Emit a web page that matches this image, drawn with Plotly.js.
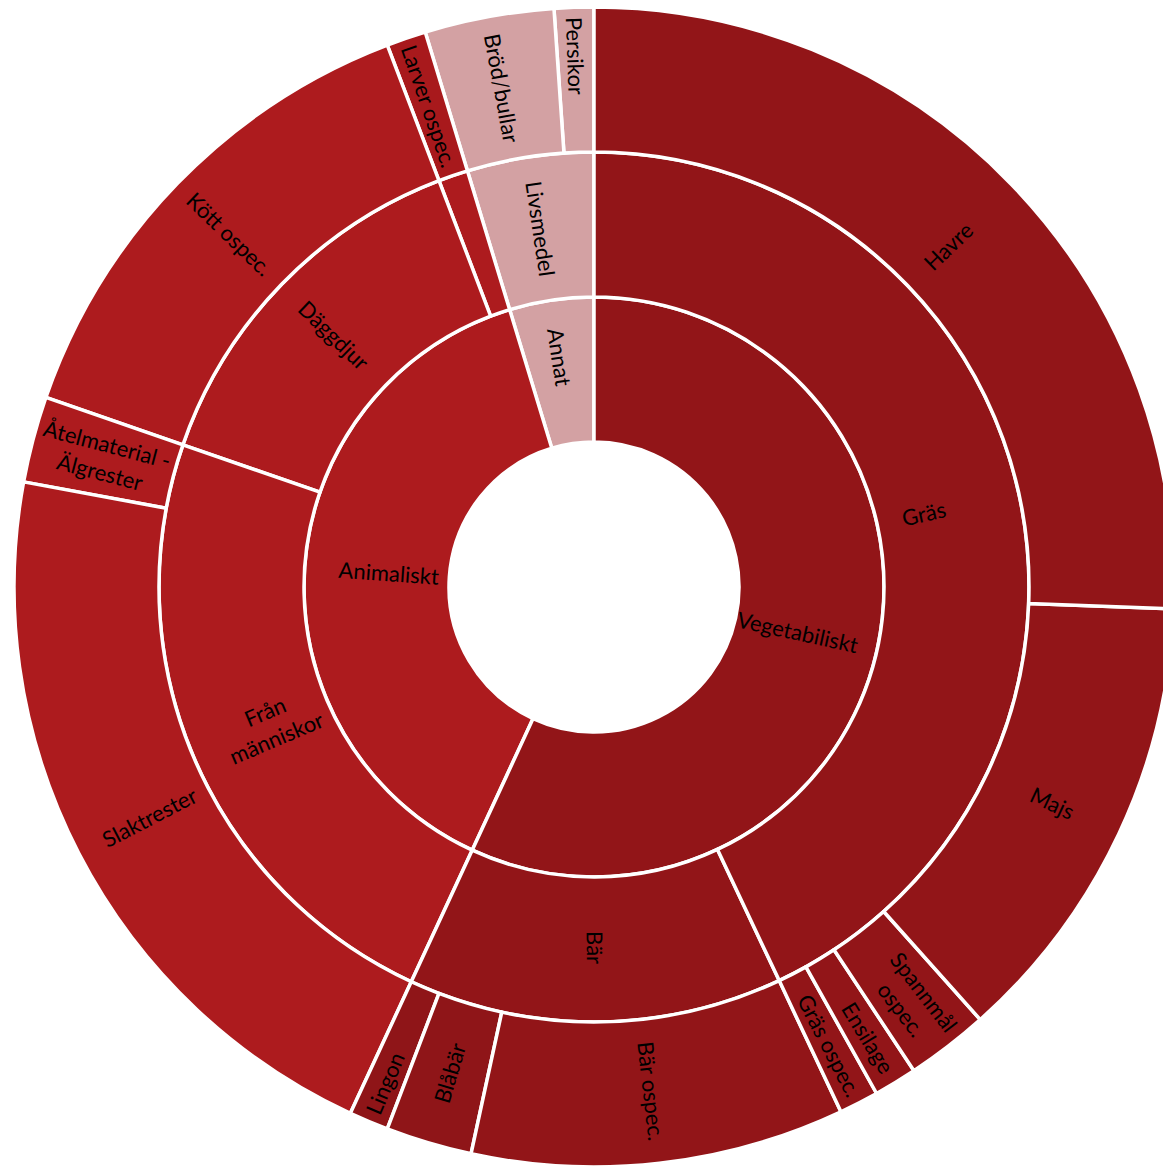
<!DOCTYPE html>
<html>
<head>
<meta charset="utf-8">
<script src="https://cdn.plot.ly/plotly-3.0.1.min.js"></script>
<style>
html,body{margin:0;padding:0;overflow:hidden;background:#fff;}
#chart{width:1174px;height:1168px;}
</style>
</head>
<body>
<div id="chart"></div>
<script>
// Node ids, labels, parents, values (share in %), colours
// Listed in reverse (Plotly lays sectors out counterclockwise; reference reads clockwise)
const ids = ["root","Annat","Animaliskt","Vegetabiliskt",
  "Livsmedel","Insekter","Däggdjur","Från människor","Bär","Gräs",
  "Persikor","Bröd/bullar",
  "Larver ospec.","Kött ospec.",
  "Åtelmaterial - Älgrester","Slaktrester",
  "Lingon","Blåbär","Bär ospec.",
  "Gräs ospec.","Ensilage","Spannmål ospec.","Majs","Havre"];
const labelText = ["","Annat","Animaliskt","Vegetabiliskt",
  "Livsmedel","","Däggdjur","Från<br>människor","Bär","Gräs",
  "Persikor","Bröd/bullar",
  "Larver ospec.","Kött ospec.",
  "Åtelmaterial -<br>Älgrester","Slaktrester",
  "Lingon","Blåbär","Bär ospec.",
  "Gräs ospec.","Ensilage","Spannmål<br>ospec.","Majs","Havre"];
const parents = ["","root","root","root",
  "Annat","Animaliskt","Animaliskt","Animaliskt","Vegetabiliskt","Vegetabiliskt",
  "Livsmedel","Livsmedel",
  "Insekter","Däggdjur",
  "Från människor","Från människor",
  "Bär","Bär","Bär",
  "Gräs","Gräs","Gräs","Gräs","Gräs"];
const values = [0,0,0,0,
  0,0,0,0,0,0,
  1.1,3.6,
  1.1,13.9,
  2.4,21.0,
  1.1,2.4,10.4,
  1.1,1.2,2.3,12.8,25.6];
const VEG="#921518", ANI="#AD1B1E", ANN="#D3A1A3";
const colors = ["#ffffff",ANN,ANI,VEG,
  ANN,ANI,ANI,ANI,VEG,VEG,
  ANN,ANN,
  "#A8191C",ANI,
  ANI,ANI,
  "#8F1518","#8F1518",VEG,
  VEG,VEG,VEG,VEG,VEG];

// Labels whose sector spans a horizontal axis: drawn by an overlay trace
// (padded with blank lines so Plotly keeps them radial at the sector's middle)
const wideSectors = ["Vegetabiliskt","Animaliskt","Gräs","Från människor","Havre","Slaktrester"];
const padLines = 3;
function pad(t){
  const blank = Array(padLines).fill("&nbsp;").join("<br>");
  return blank + "<br>" + t + "<br>" + blank;
}
const textMain = ids.map((id,i) => wideSectors.includes(id) ? "" : labelText[i]);
const textWide = ids.map((id,i) => wideSectors.includes(id) ? pad(labelText[i]) : "");
const clear = ids.map(() => "rgba(0,0,0,0)");

const font = {family: "Lato, 'Open Sans', sans-serif", size: 22, color: "#000000"};
const base = {
  type:"sunburst",
  ids: ids,
  labels: ids,
  parents: parents,
  values: values,
  textinfo: "text",
  branchvalues: "remainder",
  sort: false,
  rotation: 90,
  hoverinfo: "none",
  textfont: font,
  leaf: {opacity: 1}
};
const t1 = Object.assign({}, base, {
  text: textMain,
  insidetextorientation: "radial",
  marker: {colors: colors, line: {color: "#ffffff", width: 3.5}}
});
const t2 = Object.assign({}, base, {
  text: textWide,
  insidetextorientation: "auto",
  marker: {colors: clear, line: {color: "rgba(0,0,0,0)", width: 0}}
});
const layout = {
  width: 1174, height: 1168,
  margin: {l: 14, r: 0, t: 7, b: 1},
  paper_bgcolor: "#ffffff",
  showlegend: false
};
Plotly.newPlot("chart", [t1, t2], layout, {staticPlot: true, displayModeBar: false});
</script>
</body>
</html>
